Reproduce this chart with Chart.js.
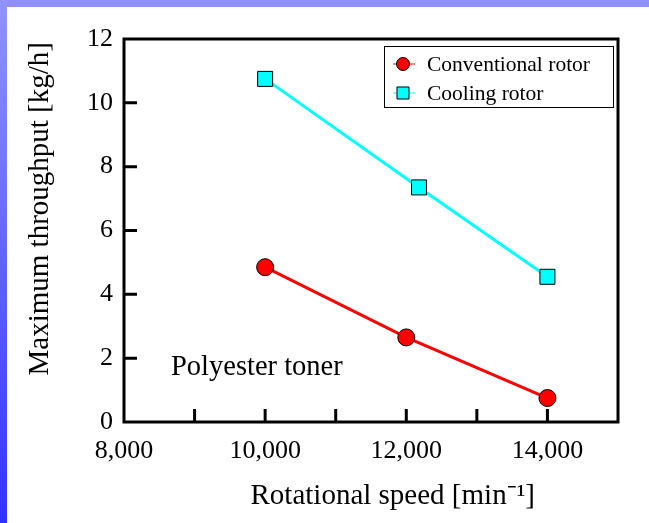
<!DOCTYPE html>
<html>
<head>
<meta charset="utf-8">
<script src="https://cdn.jsdelivr.net/npm/chart.js@4.4.1/dist/chart.umd.min.js"></script>
<style>
  html, body { margin: 0; padding: 0; background: #fff; }
  #wrap { position: relative; width: 649px; height: 523px; overflow: hidden; }
  #wrap canvas { position: absolute; left: 0; top: 0; }
  #topBar { position: absolute; left: 0; top: 0; width: 649px; height: 7px; background: #8f8fff; }
  #leftBar { position: absolute; left: 0; top: 0; width: 7px; height: 523px; background: linear-gradient(#9292ff, #3232ff); }
</style>
</head>
<body>
<div id="wrap">
  <canvas id="ThroughputChart" width="649" height="523"></canvas>
  <div id="topBar"></div>
  <div id="leftBar"></div>
</div>
<script>
// Rotational speed [min-1] of each measured point
const speedConventional = [10000, 12000, 14000];
const speedCooling = [10000, 12180, 14000];
// Maximum throughput [kg/h]
const throughputConventional = [4.85, 2.65, 0.75];
const throughputCooling = [10.75, 7.35, 4.55];

const seriesLabels = ['Conventional rotor', 'Cooling rotor'];
// Only these x values get a printed label, the others just a tick mark
const xLabelValues = [8000, 10000, 12000, 14000];
const xTitle = 'Rotational speed [min\u207B\u00B9]';
const yTitle = 'Maximum throughput [kg/h]';
const noteText = 'Polyester toner';

const serif = "'Liberation Serif', 'Times New Roman', serif";

// Frame round the plot area plus short ticks pointing inwards.
const frameTicks = {
    id: 'frameTicks',
    beforeDatasetsDraw(chart) {
        const {ctx, chartArea: a, scales: {x, y}} = chart;
        ctx.save();
        ctx.strokeStyle = '#000';
        ctx.lineWidth = 3;
        ctx.beginPath();
        x.ticks.forEach(t => {
            if (t.value > x.min && t.value < x.max) {
                const px = x.getPixelForValue(t.value);
                ctx.moveTo(px, a.bottom);
                ctx.lineTo(px, a.bottom - 13);
            }
        });
        y.ticks.forEach(t => {
            if (t.value > y.min && t.value < y.max) {
                const py = y.getPixelForValue(t.value);
                ctx.moveTo(a.left, py);
                ctx.lineTo(a.left + 13, py);
            }
        });
        ctx.stroke();
        ctx.strokeRect(a.left, a.top, a.width, a.height);
        ctx.restore();
    }
};

// Boxed legend in the upper right corner and the note text.
const boxLegend = {
    id: 'boxLegend',
    afterDraw(chart) {
        const {ctx, chartArea: a} = chart;
        const boxW = 229, boxH = 61;
        const left = a.right - 5 - boxW;
        const top = a.top + 7;
        ctx.save();
        ctx.fillStyle = '#fff';
        ctx.fillRect(left, top, boxW, boxH);
        ctx.strokeStyle = '#000';
        ctx.lineWidth = 1;
        ctx.strokeRect(left + 0.5, top + 0.5, boxW, boxH);

        chart.data.datasets.forEach((ds, i) => {
            const cy = top + 18 + i * 29;
            const cx = left + 19;
            ctx.strokeStyle = ds.borderColor;
            ctx.lineWidth = 1;
            ctx.beginPath();
            ctx.moveTo(cx - 10, cy);
            ctx.lineTo(cx + 12, cy);
            ctx.stroke();

            ctx.fillStyle = ds.pointBackgroundColor;
            ctx.strokeStyle = ds.pointBorderColor;
            ctx.lineWidth = 1;
            Chart.helpers.drawPoint(ctx, {
                pointStyle: ds.pointStyle,
                rotation: 0,
                radius: ds.pointStyle === 'rect' ? 8.5 : 6.5,
                borderWidth: 1
            }, cx, cy);

            ctx.fillStyle = '#000';
            ctx.font = '21.5px ' + serif;
            ctx.textAlign = 'left';
            ctx.textBaseline = 'middle';
            ctx.fillText(ds.label, left + 43, cy + 1);
        });

        ctx.fillStyle = '#000';
        ctx.font = '28.5px ' + serif;
        ctx.textAlign = 'left';
        ctx.textBaseline = 'middle';
        ctx.fillText(noteText, a.left + 47, a.bottom - 54);
        ctx.restore();
    }
};

function toPoints(xs, ys) {
    return xs.map((v, i) => ({x: v, y: ys[i]}));
}

const ctx = document.getElementById('ThroughputChart').getContext('2d');
window.myChart = new Chart(ctx, {
    type: 'line',
    data: {
        datasets: [{
            label: seriesLabels[0],
            data: toPoints(speedConventional, throughputConventional),
            borderColor: '#ff0000',
            backgroundColor: '#ff0000',
            borderWidth: 3,
            pointStyle: 'circle',
            pointRadius: 8.5,
            pointBackgroundColor: '#ff0000',
            pointBorderColor: '#000',
            pointBorderWidth: 1,
            fill: false
        }, {
            label: seriesLabels[1],
            data: toPoints(speedCooling, throughputCooling),
            borderColor: '#00ffff',
            backgroundColor: '#00ffff',
            borderWidth: 3,
            pointStyle: 'rect',
            pointRadius: 10.6,
            pointBackgroundColor: '#00ffff',
            pointBorderColor: '#000',
            pointBorderWidth: 1,
            fill: false
        }]
    },
    options: {
        responsive: false,
        animation: false,
        layout: {
            padding: {left: 7, top: 39, right: 31, bottom: 0}
        },
        plugins: {
            legend: {display: false},
            tooltip: {enabled: false}
        },
        scales: {
            x: {
                type: 'linear',
                min: 8000,
                max: 15000,
                grid: {display: false, drawTicks: false},
                border: {display: false},
                ticks: {
                    stepSize: 1000,
                    autoSkip: false,
                    maxRotation: 0,
                    padding: 14,
                    color: '#000',
                    font: {family: serif, size: 26},
                    callback: v => xLabelValues.includes(v) ? v.toLocaleString('en-US') : ''
                },
                title: {
                    display: true,
                    text: '      ' + xTitle,
                    color: '#000',
                    font: {family: serif, size: 29},
                    padding: {top: 0, bottom: 9}
                },
                afterFit: scale => { scale.height = 101; }
            },
            y: {
                min: 0,
                max: 12,
                grid: {display: false, drawTicks: false},
                border: {display: false},
                ticks: {
                    stepSize: 2,
                    padding: 11,
                    color: '#000',
                    font: {family: serif, size: 26}
                },
                title: {
                    display: true,
                    text: '      ' + yTitle,
                    color: '#000',
                    font: {family: serif, size: 29},
                    padding: {top: 16, bottom: 0}
                },
                afterFit: scale => { scale.width = 117; }
            }
        }
    },
    plugins: [frameTicks, boxLegend]
});
</script>
</body>
</html>
